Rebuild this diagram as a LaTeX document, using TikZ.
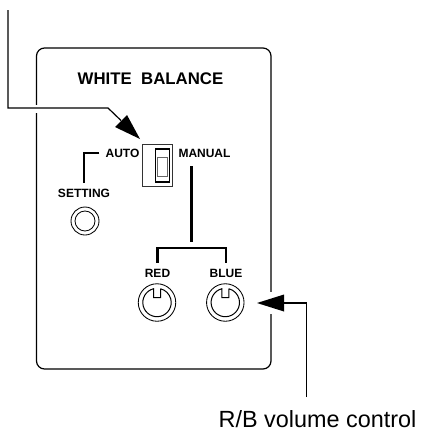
\documentclass[tikz,border=0pt]{standalone}
\usepackage{fontspec}
\setmainfont{Liberation Sans}
\tikzset{
  panel/.style={draw=black, line width=1.2pt, rounded corners=8pt},
  leader/.style={draw=black, line width=1.2pt},
  bracket/.style={draw=black, line width=2.2pt, shorten <=6pt, shorten >=6pt},
  head/.style={fill=black, draw=none},
  lbl/.style={inner sep=0pt, font=\fontsize{12}{12}\bfseries\selectfont, text=black},
  ring/.style={draw=black, line width=0.85pt, circle, inner sep=0pt}
}
\begin{document}
\begin{tikzpicture}[x=1pt, y=-1pt]
\useasboundingbox (0,0) rectangle (421,432);
% panel
\draw[panel] (36.5,48) rectangle (271,369);
\node[inner sep=0pt, font=\fontsize{16.8}{17}\bfseries\selectfont, text=black] (title) at (150.5,79) {WHITE\ \ BALANCE};

% switch
\node[draw=black!80, line width=1pt, minimum width=30pt, minimum height=42pt, inner sep=0pt] (switch) at (157.2,165.8) {};
\node[draw=black, line width=1.3pt, minimum width=14pt, minimum height=33pt, inner sep=0pt] (lever) at (162.3,165.5) {};
\node[draw=black!60, line width=1pt, minimum width=10pt, minimum height=19pt, inner sep=0pt] (grip) at (162.3,166.5) {};

% labels
\node[lbl] (auto) at (122.5,153) {AUTO};
\node[lbl] (manual) at (204.5,153) {MANUAL};
\node[lbl] (setting) at (84,193.5) {SETTING};
\node[lbl] (red) at (157.5,273) {RED};
\node[lbl] (blue) at (226,273) {BLUE};
\coordinate (manualend) at (191.5,160);
\coordinate (fork) at (191.5,248);
\draw[bracket] (auto.west) -| (setting.north);
\draw[bracket] (manualend) -- (fork);
\draw[bracket] (red.north) |- (fork) -| (blue.north);

% knobs
\node[ring, minimum size=28pt] (settingknob) at (85,221) {};
\node[ring, minimum size=20pt] (settinginner) at (85,221) {};
\node[ring, minimum size=37.5pt] (redknob) at (157,302.5) {};
\node[ring, minimum size=37.5pt] (blueknob) at (225.3,302.5) {};
\foreach \k in {redknob,blueknob}
  \draw[draw=black, line width=1pt] (\k) ++(3.5,-13.76) -- ++(0,8.8) -- ++(-7,0) -- ++(0,-8.8) arc (-104.3:-435.7:14.2);

% leaders
\coordinate (topend) at (8,10);
\coordinate (topbend) at (8,108);
\coordinate (topknee) at (108,108);
\coordinate (toptip) at (140,139);
\coordinate (toplower) at (115,127);
\coordinate (topupper) at (127,115);
\fill[white] (33,105) rectangle (40,113);
\draw[leader] (topend) -- (topbend) -- (topknee) -- (121,120.5);
\fill[head] (toptip) -- (toplower) -- (topupper) -- cycle;

\coordinate (sidetip) at (257,303);
\coordinate (sideupper) at (284,294.5);
\coordinate (sidelower) at (284,311.5);
\coordinate (sidebend) at (306.5,303);
\coordinate (sideend) at (306.5,397);
\fill[white] (267,292) rectangle (275,314);
\fill[head] (sidetip) -- (sideupper) -- (sidelower) -- cycle;
\draw[leader] (sideend) -- (sidebend) -- (284,303);

\node[inner sep=0pt, anchor=base, font=\fontsize{23.4}{24}\selectfont, text=black] (volume) at (317.5,427) {R/B volume control};
\end{tikzpicture}
\end{document}
